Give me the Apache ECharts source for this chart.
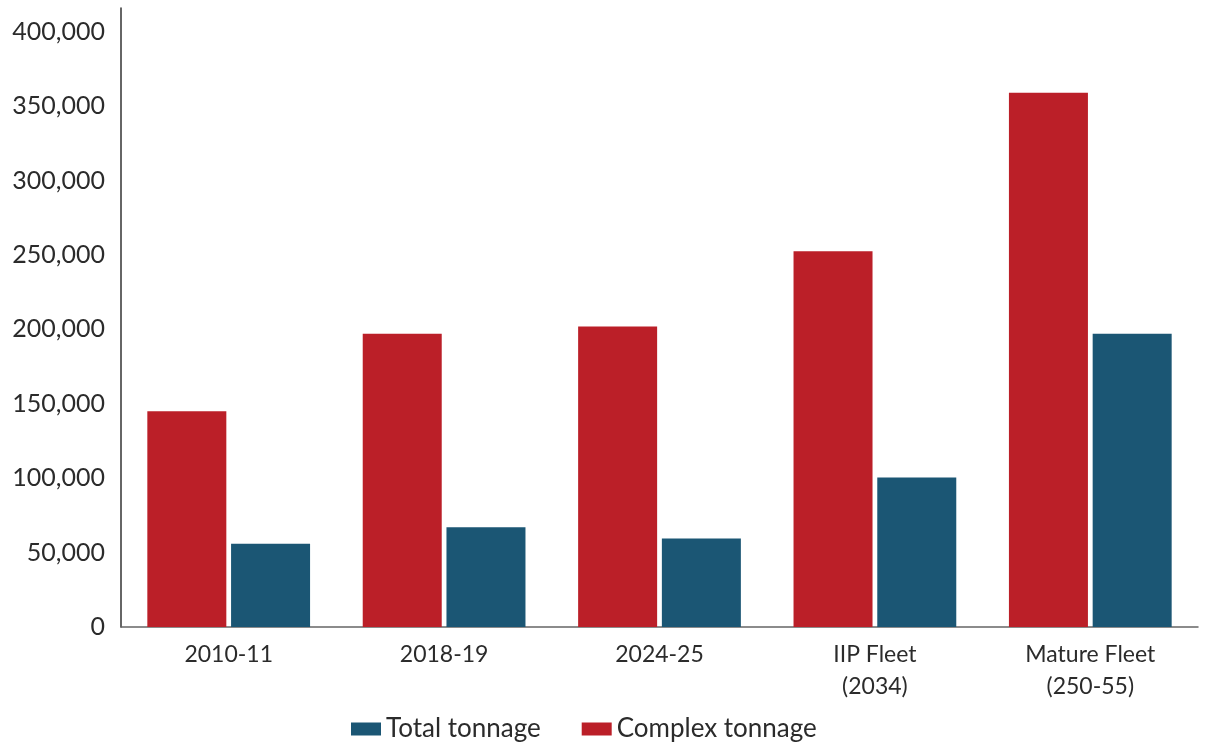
<!DOCTYPE html>
<html><head><meta charset="utf-8">
<script src="https://cdn.jsdelivr.net/npm/echarts@6/dist/echarts.min.js"></script>
<style>html,body{margin:0;padding:0;background:#fff}#c{width:1208px;height:745px}</style>
</head><body><div id="c"></div>
<script>
const categories = ['2010-11', '2018-19', '2024-25', 'IIP Fleet\n(2034)', 'Mature Fleet\n(250-55)'];
const complexTonnage = [145000, 197000, 202000, 252500, 359000];
const totalTonnage = [56000, 67000, 59500, 100500, 197000];
const seriesNames = ['Complex tonnage', 'Total tonnage'];
const legendOrder = ['Total tonnage', 'Complex tonnage'];

const FONT = 'Lato';
const TXT = '#2b2b2b';
const chart = echarts.init(document.getElementById('c'), null, {renderer: 'canvas'});
chart.setOption({
  animation: false,
  textStyle: {fontFamily: FONT},
  grid: {left: 121, right: 10, top: 8, bottom: 118, containLabel: false},
  legend: {
    data: legendOrder, left: 346, top: 711,
    itemWidth: 30, itemHeight: 13, itemGap: 41,
    icon: 'rect',
    textStyle: {fontFamily: FONT, fontSize: 26, color: TXT}
  },
  xAxis: {
    type: 'category', data: categories,
    axisLine: {lineStyle: {color: '#666', width: 1.5}},
    axisTick: {show: false},
    axisLabel: {fontFamily: FONT, fontSize: 23, color: TXT, margin: 12, lineHeight: 32, interval: 0}
  },
  yAxis: {
    type: 'value', min: 0, max: 416000, interval: 50000,
    axisLine: {show: true, lineStyle: {color: '#333', width: 1.5}},
    axisTick: {show: false},
    splitLine: {show: false},
    axisLabel: {fontFamily: FONT, fontSize: 25, color: TXT, margin: 16, showMaxLabel: false,
      formatter: v => v.toLocaleString('en-US')}
  },
  series: [
    {name: seriesNames[0], type: 'bar', data: complexTonnage, barWidth: 79, barGap: '6%',
     itemStyle: {color: '#BB1F28'}},
    {name: seriesNames[1], type: 'bar', data: totalTonnage, barWidth: 79,
     itemStyle: {color: '#1B5674'}}
  ]
});
</script></body></html>
